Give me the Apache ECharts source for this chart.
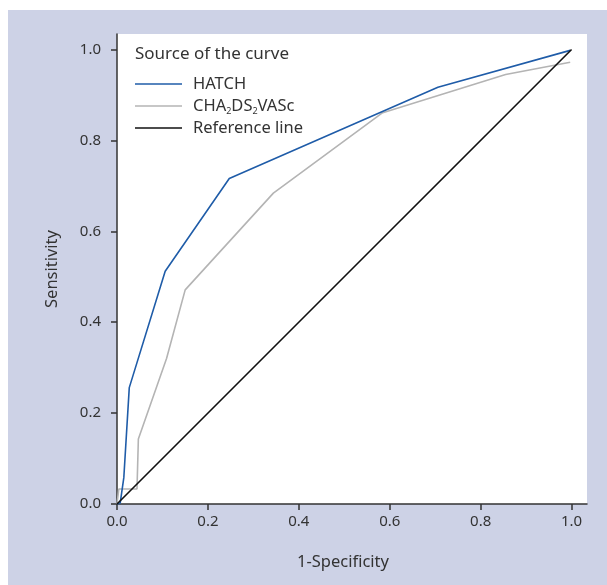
<!DOCTYPE html>
<html>
<head>
<meta charset="utf-8">
<script src="https://cdn.jsdelivr.net/npm/echarts@6/dist/echarts.min.js"></script>
<style>html,body{margin:0;padding:0;background:#fff;}#c{width:607px;height:585px;}</style>
</head>
<body>
<div id="c"></div>
<script>
// Data
const seriesNames = ['HATCH', 'CHA2DS2VASc', 'Reference line'];
const hatchFpr = [0, 0.007, 0.015, 0.027, 0.106, 0.247, 0.706, 0.997];
const hatchTpr = [0, 0.002, 0.058, 0.256, 0.512, 0.716, 0.917, 0.998];
const chaFpr = [0, 0.004, 0.044, 0.047, 0.109, 0.150, 0.344, 0.583, 0.855, 0.997];
const chaTpr = [0, 0.033, 0.033, 0.143, 0.320, 0.471, 0.684, 0.860, 0.945, 0.972];
const refFpr = [0, 1];
const refTpr = [0, 1];
const tickValues = [0, 0.2, 0.4, 0.6, 0.8, 1.0];

const pairs = (xs, ys) => xs.map((x, i) => [x, ys[i]]);
const FONT = 'Noto Sans';
const TXT = '#333';

const axisCommon = {
  type: 'value', min: 0, max: 1.034,
  axisLine: { show: true, onZero: false, lineStyle: { color: '#333', width: 1.5 } },
  axisTick: { show: true, inside: false, length: 6, customValues: tickValues, lineStyle: { color: '#333', width: 1.5 } },
  axisLabel: { customValues: tickValues, formatter: v => v.toFixed(1), color: TXT, fontSize: 15, fontFamily: FONT },
  splitLine: { show: false },
  nameLocation: 'middle',
  nameTextStyle: { color: TXT, fontSize: 16.5, fontFamily: FONT }
};

const chart = echarts.init(document.getElementById('c'), null, { renderer: 'canvas' });
chart.setOption({
  backgroundColor: '#fff',
  animation: false,
  graphic: [{
    type: 'rect', z: -10, silent: true,
    shape: { x: 8, y: 10, width: 599, height: 575 },
    style: { fill: '#cdd2e6' }
  }],
  title: {
    text: 'Source of the curve', left: 130, top: 41,
    textStyle: { color: TXT, fontSize: 17, fontWeight: 'normal', fontFamily: FONT }
  },
  legend: {
    orient: 'vertical', left: 130, top: 69,
    itemWidth: 47, itemHeight: 1.5, itemGap: 2, icon: 'rect',
    data: seriesNames,
    formatter: n => n === 'CHA2DS2VASc' ? 'CHA{s|2}DS{s|2}VASc' : n,
    textStyle: {
      color: TXT, fontSize: 16.5, fontFamily: FONT, lineHeight: 20, padding: [0, 0, 0, 6],
      rich: { s: { fontSize: 9, fontFamily: FONT, color: TXT, verticalAlign: 'bottom', lineHeight: 20 } }
    }
  },
  grid: { left: 117, right: 20, top: 34, bottom: 81, show: true, backgroundColor: '#fff', borderWidth: 0 },
  xAxis: Object.assign({}, axisCommon, {
    name: '1-Specificity', nameGap: 50,
    axisLabel: Object.assign({}, axisCommon.axisLabel, { margin: 10 }),
    nameTextStyle: Object.assign({}, axisCommon.nameTextStyle, { padding: [0, 18, 0, 0] })
  }),
  yAxis: Object.assign({}, axisCommon, {
    name: 'Sensitivity', nameGap: 56,
    axisLabel: Object.assign({}, axisCommon.axisLabel, { margin: 16 })
  }),
  series: [
    { name: seriesNames[0], type: 'line', data: pairs(hatchFpr, hatchTpr), showSymbol: false, symbol: 'none',
      lineStyle: { color: '#1f5ca8', width: 1.6 }, itemStyle: { color: '#1f5ca8' }, z: 3 },
    { name: seriesNames[1], type: 'line', data: pairs(chaFpr, chaTpr), showSymbol: false, symbol: 'none',
      lineStyle: { color: '#b4b4b4', width: 1.6 }, itemStyle: { color: '#b4b4b4' }, z: 2 },
    { name: seriesNames[2], type: 'line', data: pairs(refFpr, refTpr), showSymbol: false, symbol: 'none',
      lineStyle: { color: '#111', width: 1.6 }, itemStyle: { color: '#111' }, z: 4 }
  ]
});
</script>
</body>
</html>
